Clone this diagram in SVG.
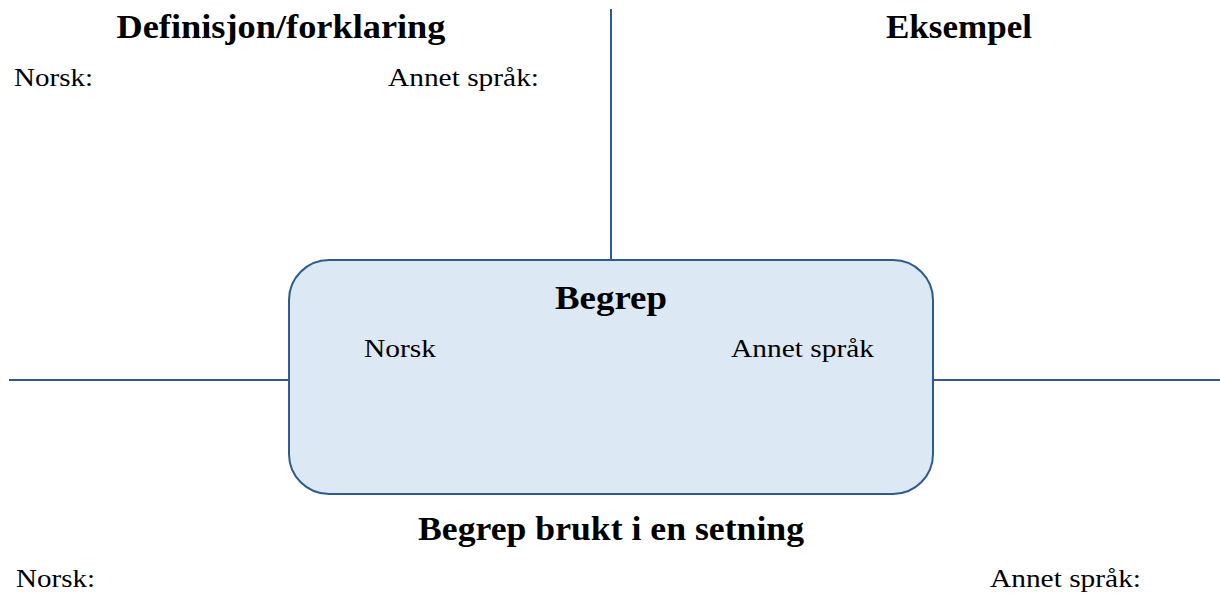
<svg xmlns="http://www.w3.org/2000/svg" width="1220" height="595" viewBox="0 0 1220 595">
<style>
.ln{stroke:#2f5b8c;stroke-width:2;fill:none}
.t{font-family:"Liberation Serif","DejaVu Serif",serif;fill:#000}
.h{font-weight:bold;font-size:33px;text-anchor:middle}
.n{font-size:25px}
</style>
<rect width="1220" height="595" fill="#fff"/>
<g id="connectors">
<line class="ln" x1="611" y1="9" x2="611" y2="260"/>
<line class="ln" x1="9" y1="380" x2="289" y2="380"/>
<line class="ln" x1="933" y1="380" x2="1220" y2="380"/>
</g>
<g id="begrep">
<rect x="289" y="260" width="644" height="234" rx="40" ry="40" fill="#dde8f5" stroke="#2f5b8c" stroke-width="2"/>
<text class="t h" x="611" y="309" textLength="112" lengthAdjust="spacingAndGlyphs">Begrep</text>
<text class="t n" x="364" y="357" textLength="72" lengthAdjust="spacingAndGlyphs">Norsk</text>
<text class="t n" x="731" y="357" textLength="143" lengthAdjust="spacingAndGlyphs">Annet språk</text>
</g>
<g id="definisjon">
<text class="t h" x="281" y="38" textLength="329" lengthAdjust="spacingAndGlyphs">Definisjon/forklaring</text>
<text class="t n" x="14" y="86" textLength="79" lengthAdjust="spacingAndGlyphs">Norsk:</text>
<text class="t n" x="388" y="86" textLength="151" lengthAdjust="spacingAndGlyphs">Annet språk:</text>
</g>
<g id="eksempel">
<text class="t h" x="959" y="38" textLength="146" lengthAdjust="spacingAndGlyphs">Eksempel</text>
</g>
<g id="setning">
<text class="t h" x="611" y="540" textLength="386" lengthAdjust="spacingAndGlyphs">Begrep brukt i en setning</text>
<text class="t n" x="16" y="587" textLength="79" lengthAdjust="spacingAndGlyphs">Norsk:</text>
<text class="t n" x="990" y="587" textLength="151" lengthAdjust="spacingAndGlyphs">Annet språk:</text>
</g>
</svg>
